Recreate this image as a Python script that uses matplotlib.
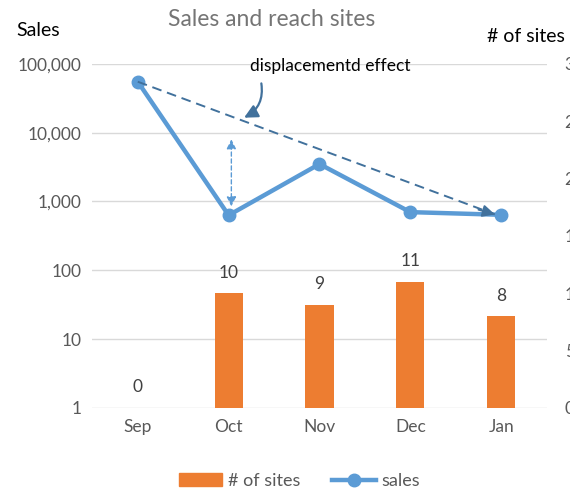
import matplotlib.pyplot as plt
from matplotlib.lines import Line2D
import matplotlib.patches as mpatches

plt.rcParams['font.family'] = ['Lato', 'DejaVu Sans']

months = ['Sep', 'Oct', 'Nov', 'Dec', 'Jan']
sales = [55000, 630, 3500, 700, 640]
sites = [0, 10, 9, 11, 8]

BLUE = '#5B9BD5'
DARK_BLUE = '#41719C'
ORANGE = '#ED7D31'
GREY = '#595959'

fig = plt.figure(figsize=(5.7, 4.95), dpi=100)
rect = [0.162, 0.176, 0.797, 0.695]
ax = fig.add_axes(rect)
ax.set_yscale('log')
ax.set_ylim(1, 100000)
ax.set_xlim(-0.5, 4.5)
ax.set_yticks([1, 10, 100, 1000, 10000, 100000])
ax.set_yticklabels(['1', '10', '100', '1,000', '10,000', '100,000'])
ax.minorticks_off()
ax.set_xticks(range(len(months)))
ax.set_xticklabels(months)
ax.grid(axis='y', color='#d9d9d9', linewidth=1)
ax.set_axisbelow(True)
for s in ax.spines.values():
    s.set_visible(False)
ax.tick_params(length=0, labelsize=12.5, colors=GREY, pad=8)

# bars on right axis
axr = ax.twinx()
axr.set_ylim(0, 30)
axr.set_yticks(range(0, 31, 5))
for s in axr.spines.values():
    s.set_visible(False)
axr.tick_params(length=0, labelsize=12.5, colors=GREY, pad=13)
bars = axr.bar(range(len(months)), sites, width=0.31, color=ORANGE)
axr.bar_label(bars, padding=9, fontsize=12.5, color='#404040')

# line on top, separate overlay axes
axl = fig.add_axes(rect)
axl.set_yscale('log')
axl.set_ylim(1, 100000)
axl.set_xlim(-0.5, 4.5)
axl.axis('off')
axl.plot(range(len(months)), sales, color=BLUE, linewidth=3.2, marker='o',
         markersize=9, solid_capstyle='round')

# expected trend (dashed) with arrow head
axl.plot([0, 3.93], [55000, 650], color=DARK_BLUE, linestyle=(0, (5, 3)), linewidth=1.4)
axl.annotate('', xy=(3.93, 650), xytext=(3.75, 760),
             arrowprops=dict(arrowstyle='-|>', color=DARK_BLUE, lw=1.4, mutation_scale=18,
                             shrinkA=0, shrinkB=0))

# displacement double arrow
axl.annotate('', xy=(1.03, 8000), xytext=(1.03, 850),
             arrowprops=dict(arrowstyle='<|-|>', color=BLUE, lw=1, linestyle=(0, (3, 2)),
                             mutation_scale=14, shrinkA=0, shrinkB=0))

# curved callout
axl.annotate('', xy=(1.17, 16500), xytext=(1.36, 52000),
             arrowprops=dict(arrowstyle='-|>', color=DARK_BLUE, lw=1.6, mutation_scale=20,
                             shrinkA=0, shrinkB=0, connectionstyle='arc3,rad=-0.35'))
fig.text(330 / 570, 1 - 66 / 495, 'displacementd effect', ha='center', va='center',
         fontsize=12.5, color='black')

fig.text(0.5 * (166 + 377) / 570, 1 - 19 / 495, 'Sales and reach sites', ha='center',
         va='center', fontsize=16.5, color='#757575')
fig.text(38 / 570, 1 - 30 / 495, 'Sales', ha='center', va='center', fontsize=14, color='black')
fig.text(526 / 570, 1 - 37 / 495, '# of sites', ha='center', va='center', fontsize=14,
         color='black')

handles = [mpatches.Patch(color=ORANGE, label='# of sites'),
           Line2D([0], [0], color=BLUE, linewidth=3.2, marker='o', markersize=9, label='sales')]
fig.legend(handles=handles, loc='center', bbox_to_anchor=(0.525, 1 - 481 / 495), ncol=2,
           frameon=False, fontsize=13, labelcolor=GREY, handlelength=2.4, columnspacing=1.8,
           handletextpad=0.3)

fig.savefig('out.png', dpi=100)
